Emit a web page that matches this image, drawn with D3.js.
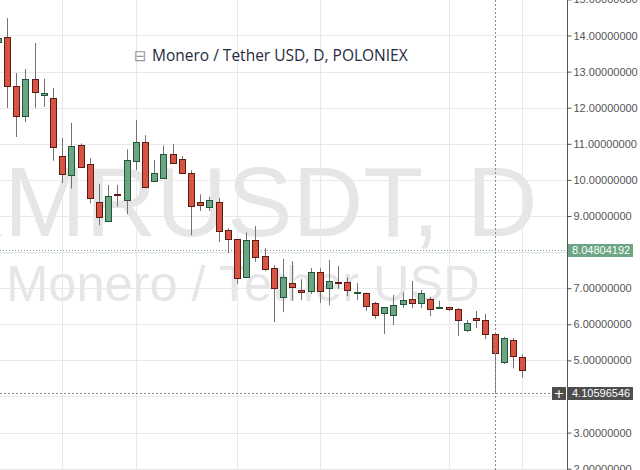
<!DOCTYPE html>
<html>
<head>
<meta charset="utf-8">
<script src="https://cdnjs.cloudflare.com/ajax/libs/d3/7.8.5/d3.min.js"></script>
<style>
body { margin: 0; background: #fff; }
svg { display: block; }
</style>
</head>
<body>
<div id="chart"></div>
<script>
// daily XMR/USDT candles (index 0 is the half hidden one at the left edge)
var opens  = [13.82,13.96,12.60,11.77,12.80,12.35,12.28,10.66,10.15,10.97,10.44,9.38,8.86,9.60,9.42,10.54,11.06,9.98,10.07,10.73,
              10.57,10.19,9.40,9.25,9.39,8.60,8.35,7.32,8.34,7.90,7.56,6.76,7.14,6.95,6.91,7.44,7.00,7.18,7.16,6.87,
              6.87,6.59,6.30,6.24,6.55,6.70,6.59,6.70,6.45,6.47,6.42,5.84,6.17,6.12,5.72,4.95,5.57,5.09];
var highs  = [14.10,14.48,12.96,13.07,13.79,12.80,12.55,11.16,11.58,11.01,10.60,9.89,9.86,9.86,10.85,11.66,11.24,10.55,10.95,10.99,
              10.66,10.27,9.60,9.53,9.50,8.66,8.36,8.54,8.72,8.11,7.64,7.81,7.75,7.25,7.56,7.56,7.78,7.61,7.30,7.14,
              6.88,6.62,6.48,6.81,6.88,7.20,6.95,6.76,6.65,6.48,6.45,6.12,6.37,6.29,5.76,5.65,5.62,5.17];
var lows   = [13.65,11.99,11.19,11.60,11.99,12.02,10.53,9.91,9.76,10.34,9.35,8.75,8.83,9.26,9.05,10.27,9.77,9.97,10.05,10.47,
              10.16,8.47,9.14,9.14,8.28,7.97,7.12,7.32,7.73,7.48,6.06,6.34,6.66,6.67,6.84,6.59,6.53,6.98,6.78,6.67,
              6.37,6.15,5.73,5.98,6.45,6.45,6.45,6.23,6.44,6.37,5.68,5.79,5.90,5.59,4.11,4.90,4.78,4.52];
var closes = [13.93,12.60,11.77,12.80,12.43,12.41,10.91,10.15,10.94,10.36,9.50,8.97,9.55,9.56,10.54,11.06,9.80,10.19,10.73,10.48,
              10.19,9.28,9.32,9.44,8.60,8.35,7.27,8.34,7.86,7.53,7.00,7.32,7.02,6.89,7.44,6.91,7.20,7.15,6.94,6.89,
              6.51,6.27,6.48,6.53,6.67,6.59,6.86,6.42,6.48,6.42,6.12,6.03,6.12,5.72,5.20,5.61,5.13,4.73];

var priceTicks = [2,3,4,5,6,7,8,9,10,11,12,13,14,15];
var gridDays = [7,15,26,35,49,57];
var markerPrice = 8.04804192;
var crossPrice = 4.10596546;
var crossDay = 54;
var titleText = "Monero / Tether USD, D, POLONIEX";
var bigMark = "XMRUSDT, D";
var smallMark = "Monero / Tether USD";

var width = 640, height = 470, paneW = 567;
var upColor = "#6ba583", downColor = "#d75442",
    upBorder = "#225437", downBorder = "#5b1a13", wickColor = "#737375";
var fmt = d3.format(".8f");

var candles = opens.map(function(o, i){
	return {i: i, o: o, h: highs[i], l: lows[i], c: closes[i]};
});

var x = d3.scaleLinear().domain([0, 57]).range([-2.2, 522.2]);
var y = d3.scaleLinear().domain([2, 15]).range([468.7, -0.6]);

var svg = d3.select("#chart")
	.append("svg")
	.attr("width", width)
	.attr("height", height);

svg.append("rect").attr("width", width).attr("height", height).attr("fill", "#fff");

var pane = svg.append("g");

pane.append("text")
	.text(bigMark)
	.attr("x", 238)
	.attr("y", 236)
	.attr("text-anchor", "middle")
	.attr("font-family", "Liberation Sans, Arial, sans-serif")
	.attr("font-size", 98)
	.attr("fill", "#e6e6e6");

pane.append("text")
	.text(smallMark)
	.attr("x", 243)
	.attr("y", 301)
	.attr("text-anchor", "middle")
	.attr("font-family", "Liberation Sans, Arial, sans-serif")
	.attr("font-size", 50.5)
	.attr("fill", "#e6e6e6");

// grid
pane.selectAll(".hgrid")
	.data(priceTicks).enter()
	.append("line")
	.attr("class", "hgrid")
	.attr("x1", 0).attr("x2", paneW)
	.attr("y1", function(d){ return Math.round(y(d)) + 0.5; })
	.attr("y2", function(d){ return Math.round(y(d)) + 0.5; })
	.attr("stroke", "#e8e8e8");

pane.selectAll(".vgrid")
	.data(gridDays).enter()
	.append("line")
	.attr("class", "vgrid")
	.attr("y1", 0).attr("y2", height)
	.attr("x1", function(d){ return Math.round(x(d)) + 0.5; })
	.attr("x2", function(d){ return Math.round(x(d)) + 0.5; })
	.attr("stroke", "#e8e8e8");

// title
var title = pane.append("g").attr("transform", "translate(134,61)");
title.append("text")
	.text("\u229F")
	.attr("x", 0)
	.attr("font-family", "DejaVu Sans, sans-serif")
	.attr("font-size", 15)
	.attr("fill", "#9a9a9a");
title.append("text")
	.text(titleText)
	.attr("x", 18)
	.attr("font-family", "Open Sans, sans-serif")
	.attr("font-size", 15.5)
	.attr("fill", "#262b3e");

// last price line
pane.append("line")
	.attr("x1", 0).attr("x2", paneW)
	.attr("y1", Math.round(y(markerPrice)) + 0.5)
	.attr("y2", Math.round(y(markerPrice)) + 0.5)
	.attr("stroke", upColor)
	.attr("stroke-dasharray", "1,2");

// candles
var bars = pane.selectAll(".candle")
	.data(candles).enter()
	.append("g")
	.attr("class", "candle")
	.attr("transform", function(d){ return "translate(" + Math.round(x(d.i)) + ",0)"; });

bars.append("line")
	.attr("x1", 0.5).attr("x2", 0.5)
	.attr("y1", function(d){ return y(d.h); })
	.attr("y2", function(d){ return y(d.l); })
	.attr("stroke", wickColor);

bars.append("rect")
	.attr("x", -2.5)
	.attr("width", 6)
	.attr("y", function(d){ return Math.round(y(Math.max(d.o, d.c))) + 0.5; })
	.attr("height", function(d){ return Math.max(1, Math.round(Math.abs(y(d.o) - y(d.c)))); })
	.attr("fill", function(d){ return d.c >= d.o ? upColor : downColor; })
	.attr("stroke", function(d){ return d.c >= d.o ? upBorder : downBorder; });

// crosshair
var cy = Math.round(y(crossPrice)) + 0.5;
pane.append("line")
	.attr("x1", Math.round(x(crossDay)) + 0.5).attr("x2", Math.round(x(crossDay)) + 0.5)
	.attr("y1", 0).attr("y2", height)
	.attr("stroke", "#8c8c8c")
	.attr("stroke-dasharray", "2,2");
pane.append("line")
	.attr("x1", 0).attr("x2", 552)
	.attr("y1", cy).attr("y2", cy)
	.attr("stroke", "#8c8c8c")
	.attr("stroke-dasharray", "2,2");

// price axis, labels hidden where a price tag sits on top
var axisG = svg.append("g").attr("transform", "translate(" + (paneW + 0.5) + ",0)");
var axis = d3.axisRight(y)
	.tickValues(priceTicks)
	.tickSize(4)
	.tickPadding(2)
	.tickFormat(fmt);
axisG.call(axis);
axisG.select(".domain").attr("stroke", "#555").attr("d", "M0,0V" + height);
axisG.selectAll(".tick line").attr("stroke", "#555");
axisG.selectAll(".tick text")
	.attr("fill", "#555")
	.attr("font-family", "Liberation Sans, Arial, sans-serif")
	.attr("font-size", 11)
	.style("display", function(d){
		return (Math.abs(y(d) - y(markerPrice)) < 12 || Math.abs(y(d) - y(crossPrice)) < 12) ? "none" : null;
	});

// price tags
function priceLabel(v, fill){
	var py = Math.round(y(v));
	svg.append("rect")
		.attr("x", paneW + 1).attr("y", py - 6)
		.attr("width", 65).attr("height", 13)
		.attr("fill", fill);
	svg.append("text")
		.text(fmt(v))
		.attr("x", paneW + 5).attr("y", py + 4)
		.attr("fill", "#fff")
		.attr("font-family", "Liberation Sans, Arial, sans-serif")
		.attr("font-size", 11);
}
priceLabel(markerPrice, upColor);
priceLabel(crossPrice, "#4e4e4e");

svg.append("rect")
	.attr("x", 552).attr("y", Math.round(y(crossPrice)) - 6)
	.attr("width", 14).attr("height", 13)
	.attr("fill", "#4e4e4e");
svg.append("text")
	.text("+")
	.attr("x", 559).attr("y", Math.round(y(crossPrice)) + 5)
	.attr("text-anchor", "middle")
	.attr("fill", "#fff")
	.attr("font-family", "DejaVu Sans, sans-serif")
	.attr("font-size", 13);
</script>
</body>
</html>
